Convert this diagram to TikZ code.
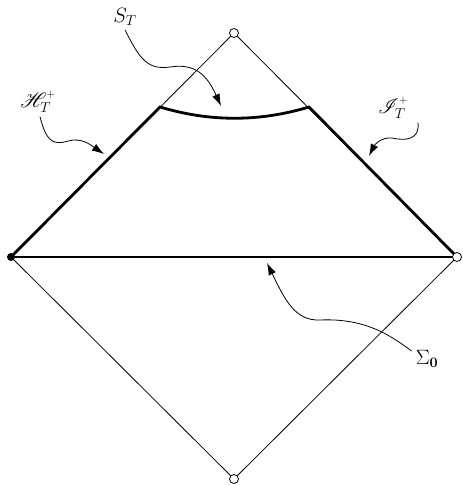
\documentclass[tikz,border=0pt]{standalone}
\usepackage{mathrsfs}
\usetikzlibrary{arrows.meta}
\begin{document}
\begin{tikzpicture}[x=1pt,y=-1pt,
  vtx/.style={circle,draw,line width=0.8pt,fill=white,inner sep=0pt,minimum size=9pt},
  vtxfull/.style={circle,fill=black,inner sep=0pt,minimum size=8pt},
  thin/.style={line width=0.8pt},
  thick3/.style={line width=2.8pt},
  wig/.style={line width=0.8pt,-{Latex[length=12pt,width=8pt]}},
  lab/.style={font=\fontsize{22}{26}\selectfont,inner sep=0pt}]
\useasboundingbox (0,0) rectangle (463,485);
\coordinate (L) at (11,257);
\coordinate (A) at (160,107);
\coordinate (B) at (309,107);
\coordinate (R) at (457,257);
% thin diamond
\draw[thin] (L) -- (234,33) -- (R) -- (234,479) -- cycle;
% thick region
\draw[thick3,line join=miter] (L) -- (A) .. controls (210,122) and (259,122) .. (B) -- (R);
\draw[thick3] (L) -- (R);
% vertices
\node[vtx] (top) at (234,33) {};
\node[vtx] (right) at (457,257) {};
\node[vtx] (bot) at (234,479) {};
\node[vtxfull] (left) at (11,257) {};
% labels
\node[lab] (st) at (125,17) {$S_T$};
\node[lab] (hl) at (38,102) {${\mathscr H}_T^{\raisebox{2pt}{$\scriptscriptstyle +$}}$};
\node[lab] (il) at (393,108) {${\mathscr I}_T^{\raisebox{2pt}{$\scriptscriptstyle +$}}$};
\node[lab] (sl) at (427,359) {$\Sigma_{\mathbf 0}$};
% arrow targets
\coordinate (sttip) at (221,106);
\coordinate (htip) at (104,154);
\coordinate (itip) at (369,156);
\coordinate (stip) at (267,263);
\draw[wig] (st.south) ++(0,4) .. controls (140,60) and (148,70) .. (170,67) .. controls (195,63) and (207,75) .. (sttip);
\draw[wig] (hl.south) ++(2,4) .. controls (46,140) and (52,146) .. (68,141) .. controls (82,137) and (92,146) .. (htip);
\draw[wig] (il.south) ++(25,4) .. controls (420,140) and (405,141) .. (392,138) .. controls (380,137) and (374,146) .. (itip);
\draw[wig] (sl.west) ++(-4,-8) .. controls (390,335) and (365,318) .. (320,320) .. controls (295,321) and (285,300) .. (stip);
\end{tikzpicture}
\end{document}
